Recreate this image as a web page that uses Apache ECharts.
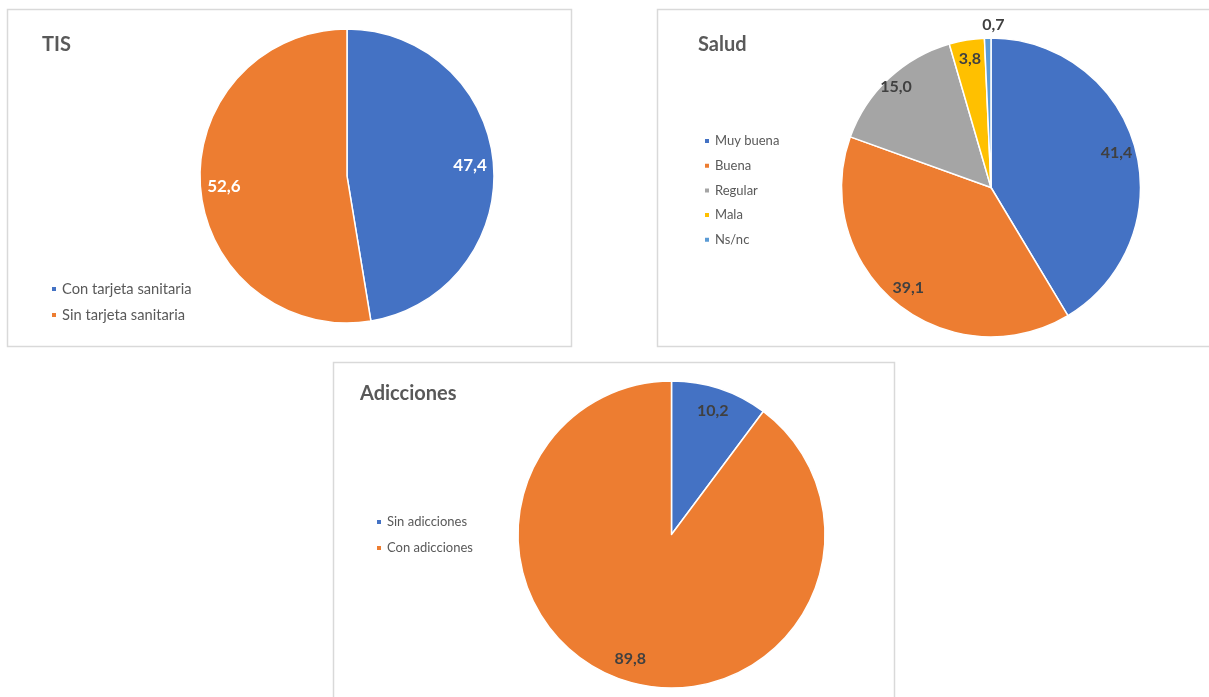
<!DOCTYPE html>
<html>
<head>
<meta charset="utf-8">
<script src="https://cdn.jsdelivr.net/npm/echarts@6/dist/echarts.min.js"></script>
<style>
  html, body { margin: 0; padding: 0; background: #fff; }
  #chart { width: 1209px; height: 697px; }
</style>
</head>
<body>
<div id="chart"></div>
<script>
// Tarjeta sanitaria
const tisCategories = ['Con tarjeta sanitaria', 'Sin tarjeta sanitaria'];
const tisValues = [47.4, 52.6];

// Estado de salud percibido
const saludCategories = ['Muy buena', 'Buena', 'Regular', 'Mala', 'Ns/nc'];
const saludValues = [41.4, 39.1, 15.0, 3.8, 0.7];

// Adicciones
const adiccionesCategories = ['Sin adicciones', 'Con adicciones'];
const adiccionesValues = [10.2, 89.8];

const palette = ['#4472C4', '#ED7D31', '#A5A5A5', '#FFC000', '#5B9BD5'];
const FONT = 'Lato, "Open Sans", sans-serif';
const fmt = v => v.toFixed(1).replace('.', ',');

function toData(cats, vals) {
  return cats.map((c, i) => ({ name: c, value: vals[i], itemStyle: { color: palette[i] } }));
}

// Visible pie wedges
function pieSeries(cats, vals, center, r) {
  return {
    type: 'pie',
    center: center,
    radius: [0, r],
    startAngle: 90,
    clockwise: true,
    label: { show: false },
    labelLine: { show: false },
    itemStyle: { borderColor: '#fff', borderWidth: 1.5 },
    emphasis: { disabled: true },
    data: toData(cats, vals),
    z: 2
  };
}

// Transparent ring carrying the value labels at a set depth in the slice;
// `shown` lists which slices get their label from this ring.
function labelRing(cats, vals, center, r0, r1, color, fontSize, shown, offset) {
  return {
    type: 'pie',
    center: center,
    radius: [r0, r1],
    startAngle: 90,
    clockwise: true,
    silent: true,
    emphasis: { disabled: true },
    itemStyle: { color: 'transparent', borderWidth: 0 },
    labelLine: { show: false },
    data: cats.map((c, i) => ({
      name: c,
      value: vals[i],
      itemStyle: { color: 'transparent' },
      label: {
        show: shown.includes(i),
        position: 'inside',
        formatter: () => fmt(vals[i]),
        color: color,
        fontFamily: FONT,
        fontWeight: 'bold',
        fontSize: fontSize,
        offset: offset || [0, 0]
      }
    })),
    z: 3
  };
}

function legendFor(cats, left, top, gap, fontSize) {
  return {
    data: cats,
    orient: 'vertical',
    left: left,
    top: top,
    padding: 0,
    icon: 'rect',
    itemWidth: 6,
    itemHeight: 6,
    itemGap: gap,
    selectedMode: false,
    textStyle: { color: '#595959', fontFamily: FONT, fontSize: fontSize, lineHeight: 16 }
  };
}

function titleAt(text, left, top) {
  return {
    text: text,
    left: left,
    top: top,
    padding: 0,
    textStyle: { color: '#595959', fontFamily: FONT, fontWeight: 'bold', fontSize: 20 }
  };
}

const panelStyle = { fill: '#fff', stroke: '#D9D9D9', lineWidth: 1.5 };

const chart = echarts.init(document.getElementById('chart'), null, { renderer: 'canvas' });
chart.setOption({
  animation: false,
  backgroundColor: '#fff',
  graphic: [
    { type: 'rect', shape: { x: 7.5, y: 9.5, width: 564, height: 337 }, style: panelStyle, z: -10 },
    { type: 'rect', shape: { x: 657.5, y: 9.5, width: 600, height: 337 }, style: panelStyle, z: -10 },
    { type: 'rect', shape: { x: 333.5, y: 362.5, width: 561, height: 400 }, style: panelStyle, z: -10 }
  ],
  title: [
    titleAt('TIS', 42, 35),
    titleAt('Salud', 698, 35),
    titleAt('Adicciones', 360, 384)
  ],
  legend: [
    legendFor(tisCategories, 50, 281, 10, 14.7),
    legendFor(saludCategories, 703, 133, 8.7, 13),
    legendFor(adiccionesCategories, 375, 514, 10, 13)
  ],
  series: [
    pieSeries(tisCategories, tisValues, [347, 176], 147),
    labelRing(tisCategories, tisValues, [347, 176], 94, 147, '#fff', 17, [0, 1]),

    pieSeries(saludCategories, saludValues, [991, 187.5], 149.5),
    labelRing(saludCategories, saludValues, [991, 187.5], 105, 149.5, '#404040', 16, [0, 1, 3]),
    labelRing(saludCategories, saludValues, [991, 187.5], 122, 149.5, '#404040', 16, [2]),
    labelRing(saludCategories, saludValues, [991, 187.5], 148, 172, '#404040', 16, [4], [6, 0]),

    pieSeries(adiccionesCategories, adiccionesValues, [671.5, 534.5], 153.5),
    labelRing(adiccionesCategories, adiccionesValues, [671.5, 534.5], 102, 153.5, '#404040', 16, [0, 1])
  ]
});
</script>
</body>
</html>
